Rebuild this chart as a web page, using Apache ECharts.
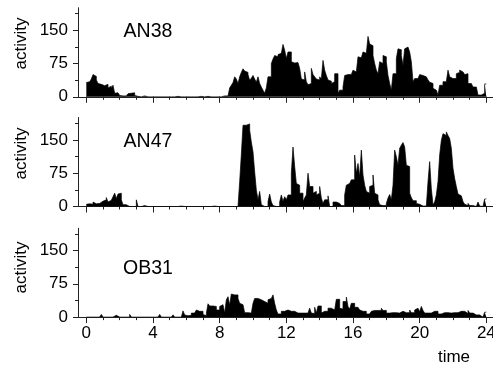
<!DOCTYPE html>
<html>
<head>
<meta charset="utf-8">
<script src="https://cdn.jsdelivr.net/npm/echarts@6/dist/echarts.min.js"></script>
<style>
html,body{margin:0;padding:0;background:#fff;}
#chart{width:493px;height:365px;}
</style>
</head>
<body>
<div id="chart"></div>
<script>
// bins of 0.1 hour, 10 values per hour row
const binHours = 0.1;
const panelNames = ['AN38', 'AN47', 'OB31'];
const AN38 = [
 32,34,36,40,50,46,38,30,28,26,
 25,22,28,20,24,18,26,8,9,7,
 3,2,1,2,1,7,8,6,9,3,
 1,0,0,0,2,0,0,1,0,0,
 0,0,0,1,0,0,0,0,0,0,
 0,0,0,0,1,0,0,0,0,0,
 0,0,0,0,0,0,0,0,1,0,
 0,0,1,0,0,0,0,0,0,0,
 0,1,2,3,2,4,20,26,32,45,
 40,30,45,55,63,58,55,50,37,42,
 48,40,33,45,30,22,15,8,20,45,
 45,75,85,93,90,95,98,100,118,105,
 86,101,101,79,76,75,77,75,64,40,
 38,56,34,27,30,64,50,45,40,38,
 45,40,82,60,48,38,35,30,34,52,
 52,8,15,15,22,48,50,52,50,52,
 60,56,56,90,88,92,101,98,100,136,
 119,115,93,75,60,52,79,75,93,90,
 79,48,30,15,52,52,86,108,106,93,
 71,108,112,116,101,79,34,41,41,45,
 50,48,52,45,41,38,33,30,19,15,
 11,4,26,26,34,34,30,60,45,41,
 41,41,52,55,60,56,52,50,52,30,
 30,28,22,22,22,4,4,4,8,29
];
const AN47 = [
 5,6,7,5,10,6,8,7,11,12,
 9,15,20,10,14,18,22,30,18,28,
 30,15,4,4,0,0,0,0,0,0,
 15,0,0,0,2,0,0,0,0,0,
 0,0,0,0,0,0,0,0,0,0,
 0,0,0,0,0,0,1,0,0,0,
 0,0,0,0,0,0,0,0,0,0,
 0,0,0,0,0,0,1,0,0,0,
 0,0,0,0,0,0,0,0,0,0,
 0,1,56,117,183,183,186,186,172,145,
 123,78,37,15,34,4,0,4,0,11,
 28,10,2,0,0,0,10,26,12,22,
 15,26,26,75,134,90,52,48,30,30,
 11,19,26,75,45,45,30,34,26,30,
 45,19,7,15,15,24,0,0,10,10,
 7,7,7,2,2,26,48,52,56,60,
 60,116,75,97,67,127,71,48,34,30,
 45,48,71,30,26,15,4,2,2,2,
 7,19,27,15,48,127,112,93,131,138,
 144,134,93,90,30,20,13,13,7,5,
 2,1,0,1,0,56,101,40,4,10,
 26,56,116,149,164,160,168,160,153,131,
 86,63,45,28,24,28,11,5,2,7,
 2,2,2,0,0,10,1,0,0,17
];
const OB31 = [
 0,0,0,0,0,0,0,0,0,6,
 0,0,0,0,0,0,0,4,4,0,
 0,0,0,0,0,0,6,0,0,0,
 0,0,0,3,0,0,0,3,0,0,
 0,0,0,0,6,0,0,0,0,0,
 0,0,5,0,0,0,0,0,14,5,
 3,1,4,9,9,9,16,13,13,13,
 6,3,8,30,25,25,25,24,16,16,
 24,28,28,9,39,46,27,52,50,50,
 50,42,31,28,24,10,10,9,9,9,
 31,42,42,42,39,35,35,35,31,39,
 42,42,50,31,16,7,7,13,13,13,
 16,16,13,13,13,9,9,9,9,13,
 9,9,9,5,20,9,8,22,9,25,
 25,9,13,13,13,20,20,18,16,16,
 40,40,20,18,35,35,45,24,18,31,
 31,22,22,22,16,13,13,13,7,7,
 7,13,15,15,15,15,15,20,15,15,
 9,9,9,10,10,10,9,9,9,13,
 15,10,10,10,16,10,10,16,20,20,
 12,24,15,9,9,9,9,9,13,13,
 13,7,7,7,10,10,10,9,9,9,
 10,10,10,10,13,13,13,9,8,15,
 9,9,9,5,5,5,1,0,0,11
];
const majorHourTicks = [0, 4, 8, 12, 16, 20, 24];
const allHourTicks = [0,1,2,3,4,5,6,7,8,9,10,11,12,13,14,15,16,17,18,19,20,21,22,23,24];
const yMajorTicks = [0, 75, 150];
const yAllTicks = [0, 37.5, 75, 112.5, 150, 187.5];
const seriesValues = [AN38, AN47, OB31];

const FONT = '"Liberation Sans", Arial, Helvetica, sans-serif';
const AX = '#222';
const gridTops = [8, 117.7, 228.3];
const gridH = 88.8;

const grids = [], xAxes = [], yAxes = [], series = [];
gridTops.forEach((top, gi) => {
  grids.push({ left: 78, right: 0, top: top, height: gridH, containLabel: false, outerBoundsMode: 'none' });
  const showX = gi === 2;
  // short ticks at every hour + axis line + labels
  xAxes.push({
    gridIndex: gi, type: 'value', min: -0.5, max: 24.4, position: 'bottom',
    axisLine: { show: true, onZero: false, lineStyle: { color: AX, width: 1 } },
    axisTick: { show: true, customValues: allHourTicks, length: 3, lineStyle: { color: AX, width: 1 } },
    axisLabel: { show: showX, customValues: majorHourTicks, fontSize: 17, fontFamily: FONT, color: '#000', margin: 8, hideOverlap: false },
    splitLine: { show: false }
  });
  // long ticks at 4-hour marks
  xAxes.push({
    gridIndex: gi, type: 'value', min: -0.5, max: 24.4, position: 'bottom',
    axisLine: { show: true, onZero: false, lineStyle: { color: AX, width: 1 } },
    axisTick: { show: true, customValues: majorHourTicks, length: 6, lineStyle: { color: AX, width: 1 } },
    axisLabel: { show: false },
    splitLine: { show: false }
  });
  yAxes.push({
    gridIndex: gi, type: 'value', min: 0, max: 200, position: 'left',
    axisLine: { show: true, onZero: false, lineStyle: { color: AX, width: 1 } },
    axisTick: { show: true, customValues: yAllTicks, length: 3, lineStyle: { color: AX, width: 1 } },
    axisLabel: { show: true, customValues: yMajorTicks, fontSize: 17, fontFamily: FONT, color: '#000', margin: 10 },
    splitLine: { show: false }
  });
  yAxes.push({
    gridIndex: gi, type: 'value', min: 0, max: 200, position: 'left',
    axisLine: { show: true, onZero: false, lineStyle: { color: AX, width: 1 } },
    axisTick: { show: true, customValues: yMajorTicks, length: 5, lineStyle: { color: AX, width: 1 } },
    axisLabel: { show: false },
    splitLine: { show: false }
  });
  const vals = seriesValues[gi];
  const data = vals.map((v, i) => [i * binHours, v]);
  data.push([vals.length * binHours, vals[vals.length - 1]]);
  series.push({
    type: 'line', name: panelNames[gi], xAxisIndex: gi * 2, yAxisIndex: gi * 2,
    data: data, step: 'end', symbol: 'none', showSymbol: false,
    lineStyle: { color: '#000', width: 0.7 },
    areaStyle: { color: '#000', opacity: 1 },
    animation: false, silent: true
  });
});

const labelYs = [32, 141.7, 268.3];
const actYs = [43.5, 153.5, 267.5];
const graphics = [];
panelNames.forEach((n, i) => {
  graphics.push({ type: 'text', x: 148, y: labelYs[i],
    style: { text: n, font: '19.5px ' + FONT, fill: '#000', textAlign: 'center', textVerticalAlign: 'middle' } });
  graphics.push({ type: 'text', x: 21, y: actYs[i], rotation: Math.PI / 2,
    style: { text: 'activity', font: '17px ' + FONT, fill: '#000', textAlign: 'center', textVerticalAlign: 'middle' } });
});
graphics.push({ type: 'text', x: 454, y: 357,
  style: { text: 'time', font: '17px ' + FONT, fill: '#000', textAlign: 'center', textVerticalAlign: 'middle' } });

const chart = echarts.init(document.getElementById('chart'), null, { renderer: 'canvas' });
chart.setOption({
  animation: false,
  backgroundColor: '#fff',
  grid: grids, xAxis: xAxes, yAxis: yAxes, series: series,
  graphic: graphics
});
</script>
</body>
</html>
